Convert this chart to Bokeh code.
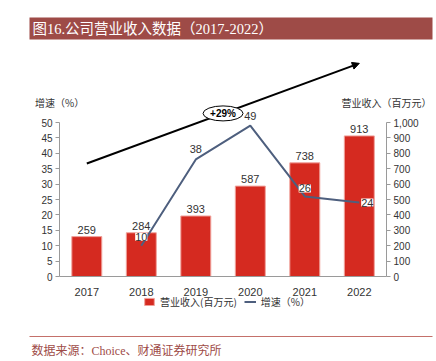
from bokeh.plotting import figure
from bokeh.models import (ColumnDataSource, Range1d, LinearAxis, FixedTicker, NumeralTickFormatter,
                          LabelSet, Label, Arrow, NormalHead, BoxAnnotation, Legend, LegendItem)
from bokeh.core.properties import value
from bokeh.embed import file_html
from bokeh.resources import INLINE

# ---------------- data ----------------
years = ["2017", "2018", "2019", "2020", "2021", "2022"]
revenue = [259, 284, 393, 587, 738, 913]          # 营业收入 (百万元)
growth_years = ["2018", "2019", "2020", "2021", "2022"]
growth = [10, 38, 49, 26, 24]                     # 增速 (%)
left_ticks = [0, 5, 10, 15, 20, 25, 30, 35, 40, 45, 50]
right_ticks = [0, 100, 200, 300, 400, 500, 600, 700, 800, 900, 1000]
cagr_label = "+29%"
title_text = "图16.公司营业收入数据（2017-2022）"
source_text = "数据来源：Choice、财通证券研究所"
left_title = "增速（%）"
right_title = "营业收入（百万元）"
bar_legend = "营业收入(百万元)"
line_legend = "增速（%）"

# ---------------- layout / style ----------------
W, H = 436, 361
SANS = "'Liberation Sans', 'Noto Sans CJK SC', sans-serif"
CJK = "'Noto Sans CJK SC', 'Liberation Sans', sans-serif"
SERIF = "'Liberation Serif', 'Noto Sans CJK SC', serif"
TXT = "#333333"
AXIS = "#9a9a9a"
RED = "#d52a20"
RED_EDGE = "#f0a39c"
SLATE = "#4e5f7e"
BRICK = "#9e4b47"

# pixel geometry of the plotting area (canvas px)
X_UNIT, X0 = 54.5, 86.3        # px per category, centre of first category
Y_UNIT, Y0 = 3.08, 276.0       # px per percent, baseline (from top)
REV_PER_PCT = 20.0             # 1000 (百万元) <-> 50 %
ARROW_FROM = (0, 36.7)
ARROW_TO = (5, 69.2)
line_label_dx = [0, 0, 0, 0, 8]
line_label_dy = [9, 10, 10, 8, 0]

xr = Range1d(-X0 / X_UNIT, (W - X0) / X_UNIT)
yr = Range1d(-(H - Y0) / Y_UNIT, Y0 / Y_UNIT)

xi = list(range(len(years)))
gx = [years.index(y) for y in growth_years]

p = figure(width=W, height=H, x_range=xr, y_range=yr, output_backend="svg",
           toolbar_location=None, min_border=0)
p.extra_y_ranges = {"rev": Range1d(yr.start * REV_PER_PCT, yr.end * REV_PER_PCT)}
p.outline_line_color = None
p.xgrid.visible = False
p.ygrid.visible = False
p.background_fill_color = "white"
p.border_fill_color = "white"

# left axis
ya = p.yaxis[0]
ya.fixed_location = -0.5
ya.bounds = (0, 50)
ya.ticker = FixedTicker(ticks=left_ticks)
ya.axis_line_color = AXIS
ya.major_tick_line_color = AXIS
ya.major_tick_out = 4
ya.major_tick_in = 0
ya.minor_tick_line_color = None
ya.major_label_text_font = SANS
ya.major_label_text_font_size = "10px"
ya.major_label_text_color = TXT
ya.major_label_standoff = 3

# right axis
ra = LinearAxis(y_range_name="rev", bounds=(0, 1000), ticker=FixedTicker(ticks=right_ticks),
                formatter=NumeralTickFormatter(format="0,0"), fixed_location=len(years) - 0.5)
ra.axis_line_color = AXIS
ra.major_tick_line_color = AXIS
ra.major_tick_out = 4
ra.major_tick_in = 0
ra.minor_tick_line_color = None
ra.major_label_text_font = SANS
ra.major_label_text_font_size = "10px"
ra.major_label_text_color = TXT
ra.major_label_standoff = 3
p.add_layout(ra, "right")

# x axis
xa = p.xaxis[0]
xa.fixed_location = 0
xa.bounds = (-0.5, len(years) - 0.5)
xa.ticker = FixedTicker(ticks=xi)
xa.major_label_overrides = {i: y for i, y in zip(xi, years)}
xa.axis_line_color = AXIS
xa.major_tick_line_color = None
xa.minor_tick_line_color = None
xa.major_label_text_font = SANS
xa.major_label_text_font_size = "11px"
xa.major_label_text_color = TXT
xa.major_label_standoff = 5

# bars
bsrc = ColumnDataSource(dict(x=xi, top=revenue, label=[str(v) for v in revenue]))
bars = p.vbar(x="x", top="top", bottom=0, width=0.55, source=bsrc, y_range_name="rev",
              fill_color=RED, line_color=RED_EDGE, line_width=1)
p.add_layout(LabelSet(x="x", y="top", text="label", source=bsrc, y_range_name="rev",
                      text_align="center", text_baseline="bottom", y_offset=3,
                      text_font=value(SANS), text_font_size="11px", text_color=TXT))

# CAGR arrow (under the glyphs)
p.add_layout(Arrow(x_start=ARROW_FROM[0], y_start=ARROW_FROM[1], x_end=ARROW_TO[0], y_end=ARROW_TO[1],
                   line_color="black", line_width=2, level="underlay",
                   end=NormalHead(size=7, fill_color="black", line_color="black")))
mx = (ARROW_FROM[0] + ARROW_TO[0]) / 2
my = (ARROW_FROM[1] + ARROW_TO[1]) / 2
p.ellipse(x=[mx], y=[my], width=40, height=15, width_units="screen", height_units="screen",
          fill_color="white", line_color="black", line_width=1)
p.add_layout(Label(x=mx, y=my, text=cagr_label, text_align="center", text_baseline="middle",
                   text_font=SANS, text_font_size="10px", text_font_style="bold", text_color="black"))

# growth line
gsrc = ColumnDataSource(dict(x=gx, y=growth, label=[str(v) for v in growth],
                             dx=line_label_dx, dy=line_label_dy))
gline = p.line(x="x", y="y", source=gsrc, line_color=SLATE, line_width=2)
p.add_layout(LabelSet(x="x", y="y", text="label", source=gsrc, x_offset="dx", y_offset="dy",
                      text_align="center", text_baseline="middle",
                      text_font=value(SANS), text_font_size="11px", text_color=TXT,
                      background_fill_color="white"))

# axis titles (above each axis)
p.add_layout(Label(x=-0.5, y=56.4, text=left_title, text_align="center", text_baseline="middle",
                   text_font=CJK, text_font_size="10px", text_color=TXT))
p.add_layout(Label(x=len(years) - 0.5, y=56.4, text=right_title, text_align="center",
                   text_baseline="middle", text_font=CJK, text_font_size="10px", text_color=TXT))

# legend
legend = Legend(items=[LegendItem(label=bar_legend, renderers=[bars]),
                       LegendItem(label=line_legend, renderers=[gline])],
                orientation="horizontal", location=(143, 52), padding=0, spacing=7,
                glyph_width=12, glyph_height=9, label_standoff=5, label_height=12,
                border_line_color=None, background_fill_alpha=0,
                label_text_font=CJK, label_text_font_size="10px", label_text_color=TXT)
p.add_layout(legend)

# title bar (screen units from bottom-left of canvas)
p.add_layout(BoxAnnotation(left=29, right=432, top=H - 17, bottom=H - 39,
                           left_units="screen", right_units="screen", top_units="screen",
                           bottom_units="screen", fill_color=BRICK, fill_alpha=1, line_color=None,
                           level="underlay"))
p.add_layout(Label(x=32, y=H - 28, x_units="screen", y_units="screen", text=title_text,
                   text_color="white", text_baseline="middle", text_font=SERIF,
                   text_font_size="14.5px"))

# source line and text
p.add_layout(BoxAnnotation(left=29, right=432, top=H - 335.5, bottom=H - 336.5,
                           left_units="screen", right_units="screen", top_units="screen",
                           bottom_units="screen", fill_color="#c4706a", fill_alpha=1, line_color=None))
p.add_layout(Label(x=31, y=H - 350.5, x_units="screen", y_units="screen", text=source_text,
                   text_color=BRICK, text_baseline="middle", text_font=SERIF, text_font_size="12px"))

open("out.html", "w").write(file_html(p, INLINE))
